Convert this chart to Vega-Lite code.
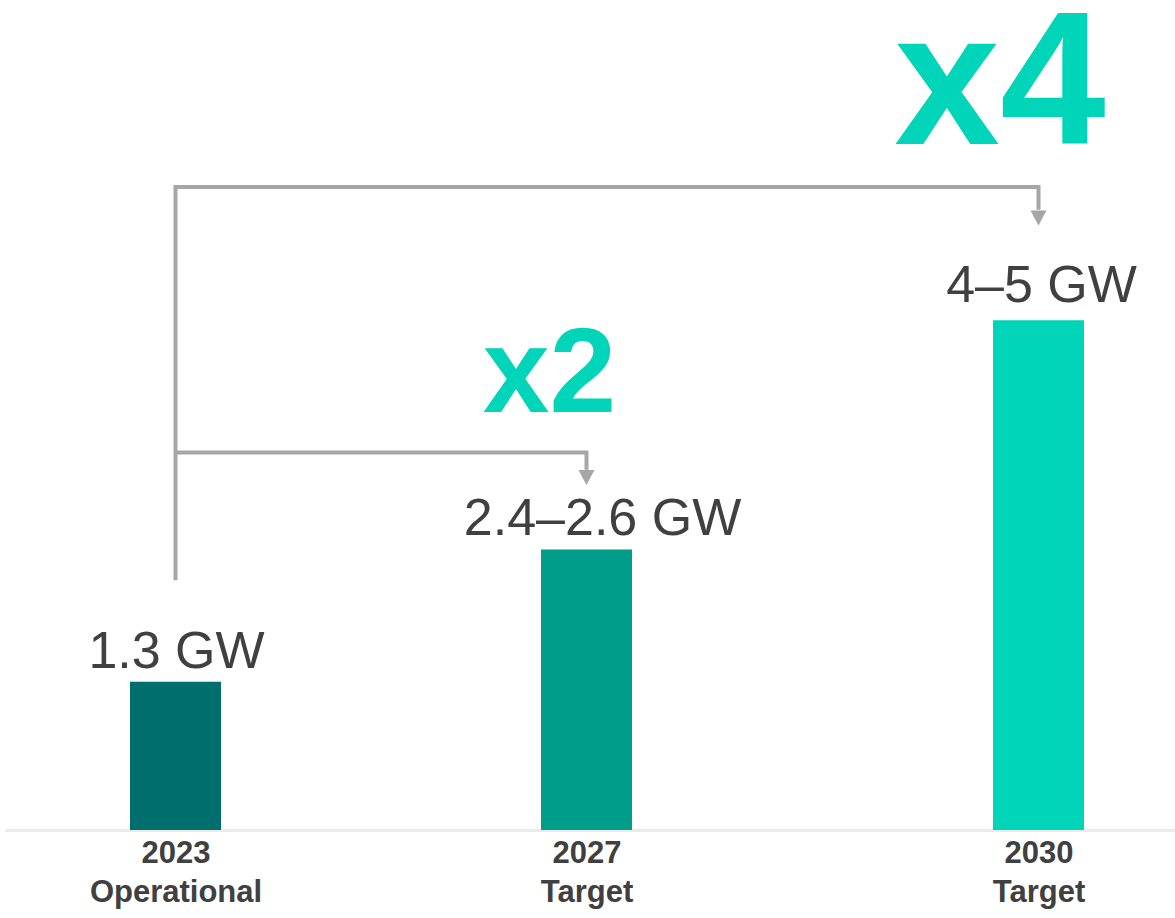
{
  "$schema": "https://vega.github.io/schema/vega-lite/v6.json",
  "width": 1175,
  "height": 830,
  "autosize": {"type": "none"},
  "padding": {"left": 0, "top": 0, "right": 0, "bottom": 88},
  "background": "white",
  "config": {"view": {"stroke": null}, "font": "Liberation Sans"},
  "datasets": {
    "bars": [
      {"year": 2023, "gw": 1.3, "label": "1.3 GW", "cat": "2023 Operational"},
      {"year": 2027, "gw": 2.46, "label": "2.4–2.6 GW", "cat": "2027 Target"},
      {"year": 2030, "gw": 4.47, "label": "4–5 GW", "cat": "2030 Target"}
    ],
    "multipliers": [
      {"year": 2027, "gw": 3.67, "text": "x2"},
      {"year": 2030, "gw": 6.02, "text": "x4"}
    ],
    "connectors": [
      {"path": "to2030", "o": 1, "year": 2023, "gw": 2.19},
      {"path": "to2030", "o": 2, "year": 2023, "gw": 5.64},
      {"path": "to2030", "o": 3, "year": 2030, "gw": 5.64},
      {"path": "to2030", "o": 4, "year": 2030, "gw": 5.44},
      {"path": "to2027", "o": 1, "year": 2023, "gw": 3.31},
      {"path": "to2027", "o": 2, "year": 2027, "gw": 3.31},
      {"path": "to2027", "o": 3, "year": 2027, "gw": 3.16}
    ],
    "arrowheads": [
      {"year": 2027, "gw": 3.092},
      {"year": 2030, "gw": 5.368}
    ]
  },
  "encoding": {
    "x": {
      "field": "year",
      "type": "quantitative",
      "scale": {
        "domain": [2022, 2023, 2027, 2030, 2031],
        "range": [5, 175.5, 586.5, 1038.5, 1175],
        "zero": false,
        "nice": false
      },
      "axis": {
        "title": null,
        "values": [2023, 2027, 2030],
        "labelExpr": "datum.value == 2023 ? ['2023', 'Operational'] : [toString(datum.value), 'Target']",
        "ticks": false,
        "grid": false,
        "domainColor": "#ebebeb",
        "domainWidth": 3,
        "labelFont": "Liberation Sans",
        "labelFontWeight": "bold",
        "labelFontSize": 31,
        "labelColor": "#404040",
        "labelLineHeight": 39,
        "labelPadding": 8,
        "labelOverlap": false,
        "labelBound": false,
        "labelFlush": false
      }
    },
    "y": {
      "field": "gw",
      "type": "quantitative",
      "scale": {"domain": [0, 7.28], "nice": false, "zero": true},
      "axis": null
    }
  },
  "layer": [
    {
      "data": {"name": "bars"},
      "mark": {"type": "bar", "size": 91},
      "encoding": {
        "color": {
          "field": "cat",
          "type": "nominal",
          "scale": {
            "domain": ["2023 Operational", "2027 Target", "2030 Target"],
            "range": ["#006e6c", "#009e8a", "#00d4b9"]
          },
          "legend": null
        }
      }
    },
    {
      "data": {"name": "bars"},
      "transform": [{"filter": "datum.year == 2023"}],
      "mark": {"type": "text", "fontSize": 52, "font": "Liberation Sans", "color": "#404040", "baseline": "alphabetic", "align": "center", "dy": -14, "dx": 1},
      "encoding": {"text": {"field": "label"}}
    },
    {
      "data": {"name": "bars"},
      "transform": [{"filter": "datum.year == 2027"}],
      "mark": {"type": "text", "fontSize": 52, "font": "Liberation Sans", "color": "#404040", "baseline": "alphabetic", "align": "center", "dy": -14.5, "dx": 16},
      "encoding": {"text": {"field": "label"}}
    },
    {
      "data": {"name": "bars"},
      "transform": [{"filter": "datum.year == 2030"}],
      "mark": {"type": "text", "fontSize": 52, "font": "Liberation Sans", "color": "#404040", "baseline": "alphabetic", "align": "center", "dy": -18.5, "dx": 3},
      "encoding": {"text": {"field": "label"}}
    },
    {
      "data": {"name": "multipliers"},
      "transform": [{"filter": "datum.text == 'x2'"}],
      "mark": {"type": "text", "fontSize": 120, "fontWeight": "bold", "font": "Liberation Sans", "color": "#00d4b9", "baseline": "alphabetic", "align": "center", "dx": -37},
      "encoding": {"text": {"field": "text"}}
    },
    {
      "data": {"name": "multipliers"},
      "transform": [{"filter": "datum.text == 'x4'"}],
      "mark": {"type": "text", "fontSize": 190, "fontWeight": "bold", "font": "Liberation Sans", "color": "#00d4b9", "baseline": "alphabetic", "align": "center", "dx": -38.5},
      "encoding": {"text": {"field": "text"}}
    },
    {
      "data": {"name": "connectors"},
      "mark": {"type": "line", "color": "#a6a6a6", "strokeWidth": 4, "strokeJoin": "miter", "strokeCap": "butt"},
      "encoding": {
        "detail": {"field": "path", "type": "nominal"},
        "order": {"field": "o", "type": "quantitative"}
      }
    },
    {
      "data": {"name": "arrowheads"},
      "mark": {"type": "point", "shape": "M-1,-0.9375L1,-0.9375L0,0.9375Z", "filled": true, "color": "#a6a6a6", "size": 256, "opacity": 1, "strokeWidth": 0}
    }
  ]
}
